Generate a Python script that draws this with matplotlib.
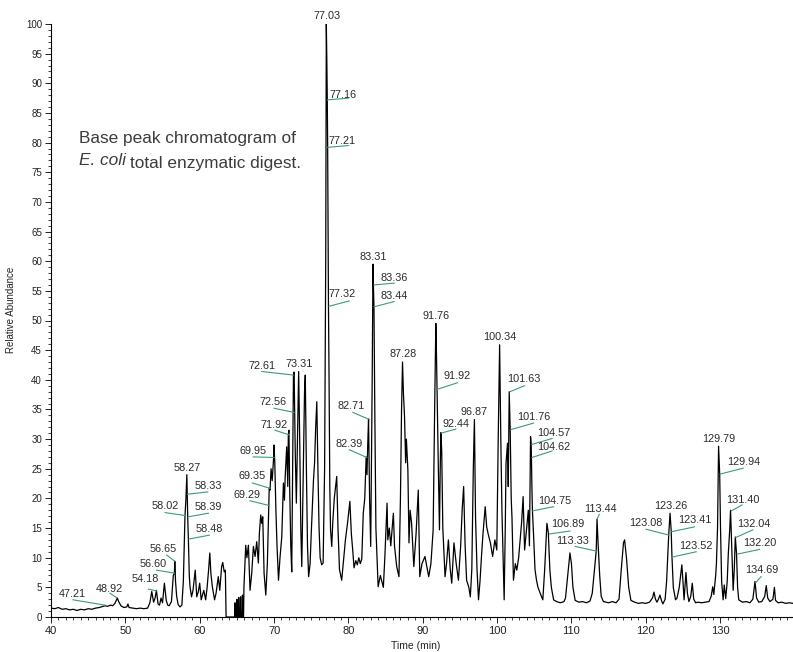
import numpy as np
import matplotlib.pyplot as plt
from matplotlib.ticker import MultipleLocator

# Trace: (time in min, relative abundance in %)
baseline_early = [
    (40.0, 1.5), (40.5, 1.4), (41.0, 1.6), (41.5, 1.3), (42.0, 1.4), (42.5, 1.2),
    (43.0, 1.3), (43.5, 1.1), (44.0, 1.3), (44.5, 1.2), (45.0, 1.4), (45.5, 1.3),
    (46.0, 1.5), (46.5, 1.6), (47.0, 1.8), (47.3, 1.9), (47.6, 1.8), (48.0, 2.0),
    (48.3, 1.9), (48.6, 2.3), (48.92, 3.2), (49.1, 2.6), (49.4, 1.9), (49.8, 1.6),
    (50.2, 1.7), (50.35, 2.2), (50.5, 1.6), (51.0, 1.5), (51.5, 1.4), (52.0, 1.5),
    (52.5, 1.4), (53.0, 1.5),
]
cluster_53_64 = [
    (53.3, 2.4), (53.55, 4.3), (53.8, 2.5), (54.0, 3.2), (54.18, 4.5), (54.4, 2.2),
    (54.6, 2.0), (54.8, 3.2), (55.0, 2.4), (55.25, 5.7), (55.5, 2.8), (55.7, 2.0),
    (55.9, 1.9), (56.2, 2.6), (56.45, 7.0), (56.6, 7.4), (56.65, 9.4), (56.75, 6.0),
    (56.9, 3.5), (57.1, 2.1), (57.35, 1.7), (57.6, 2.0), (57.8, 6.0), (58.02, 17.0),
    (58.15, 20.0), (58.27, 24.0), (58.33, 20.5), (58.39, 16.8), (58.48, 13.0),
    (58.6, 7.0), (58.7, 5.1), (58.9, 3.4), (59.1, 4.5), (59.4, 7.9), (59.6, 3.4),
    (59.8, 4.2), (60.0, 5.7), (60.2, 2.9), (60.4, 3.8), (60.55, 4.5), (60.8, 2.9),
    (61.0, 5.0), (61.2, 8.0), (61.36, 10.8), (61.5, 7.4), (61.7, 5.1), (62.0, 2.9),
    (62.2, 4.0), (62.5, 6.8), (62.7, 4.5), (62.95, 8.5), (63.1, 9.2), (63.3, 7.6),
    (63.45, 7.9), (63.55, 0.0),
]
gap_64_66 = [
    (64.7, 0.0), (64.75, 2.4), (64.8, 0.0), (64.95, 0.0), (65.0, 3.0), (65.05, 0.0),
    (65.2, 0.0), (65.25, 3.3), (65.3, 0.0), (65.45, 0.0), (65.5, 3.4), (65.55, 0.0),
    (65.7, 0.0), (65.75, 3.7), (65.8, 0.0), (65.9, 0.0), (65.95, 5.0), (66.05, 7.9),
]
cluster_66_78 = [
    (66.19, 12.1), (66.35, 10.0), (66.55, 12.1), (66.77, 4.5), (67.0, 7.4),
    (67.22, 11.9), (67.45, 10.2), (67.67, 12.7), (67.89, 9.1), (68.03, 14.2),
    (68.21, 17.2), (68.35, 15.8), (68.48, 16.9), (68.66, 7.4), (68.89, 3.7),
    (69.1, 9.0), (69.29, 18.8), (69.35, 21.7), (69.46, 21.4), (69.6, 25.0),
    (69.75, 23.0), (69.95, 27.0), (70.0, 29.0), (70.1, 26.0), (70.25, 18.0),
    (70.4, 12.0), (70.6, 6.2), (70.8, 10.0), (71.04, 13.5), (71.26, 22.6),
    (71.4, 19.7), (71.5, 23.7), (71.7, 28.7), (71.85, 22.0), (71.92, 30.7),
    (72.0, 31.5), (72.1, 22.0), (72.25, 12.0), (72.38, 7.6), (72.5, 25.0),
    (72.56, 34.5), (72.61, 40.8), (72.7, 41.3), (72.85, 28.0), (73.0, 19.2),
    (73.15, 30.0), (73.31, 41.4), (73.45, 30.0), (73.6, 15.0), (73.73, 8.5),
    (73.9, 22.0), (74.1, 38.0), (74.2, 40.8), (74.35, 25.0), (74.5, 12.0),
    (74.65, 6.8), (74.85, 9.0), (75.0, 14.0), (75.3, 23.0), (75.45, 26.0),
    (75.6, 32.0), (75.75, 36.3), (75.9, 25.0), (76.05, 15.2), (76.2, 10.0),
    (76.4, 8.8), (76.6, 9.1), (76.8, 25.0), (76.95, 60.0), (77.03, 100.0),
    (77.1, 94.0), (77.16, 87.2), (77.21, 79.3), (77.25, 70.0), (77.32, 52.5),
    (77.4, 40.0), (77.5, 22.0), (77.6, 14.7), (77.76, 11.9),
]
cluster_78_83 = [
    (77.9, 16.0), (78.1, 20.0), (78.43, 23.7), (78.6, 15.0), (78.8, 8.0),
    (79.1, 6.2), (79.3, 9.0), (79.6, 13.0), (79.9, 16.0), (80.2, 19.5),
    (80.4, 14.0), (80.6, 11.0), (80.76, 8.3), (81.0, 9.5), (81.2, 8.8),
    (81.4, 10.0), (81.6, 9.0), (81.8, 9.8), (82.0, 17.5), (82.2, 20.0),
    (82.39, 27.0), (82.5, 24.0), (82.6, 29.0), (82.71, 33.4), (82.85, 20.0),
    (83.0, 11.9),
]
cluster_83_108 = [
    (83.2, 40.0), (83.31, 59.5), (83.36, 56.2), (83.44, 52.3), (83.55, 35.0),
    (83.7, 15.0), (84.0, 5.1), (84.3, 7.0), (84.7, 5.0), (84.9, 10.0),
    (85.2, 19.2), (85.3, 13.0), (85.5, 15.0), (85.7, 12.0), (86.05, 17.5),
    (86.2, 12.0), (86.5, 8.5), (86.8, 6.8), (87.0, 20.0), (87.15, 35.0),
    (87.28, 43.0), (87.4, 37.8), (87.55, 33.8), (87.7, 26.0), (87.8, 30.0),
    (88.0, 24.8), (88.15, 12.5), (88.3, 18.0), (88.5, 15.8), (88.8, 8.5),
    (89.1, 14.0), (89.4, 21.4), (89.6, 6.8), (89.9, 9.0), (90.3, 10.2),
    (90.8, 6.8), (91.1, 9.0), (91.4, 14.7), (91.6, 35.0), (91.76, 49.5),
    (91.85, 44.0), (91.92, 38.4), (92.1, 25.0), (92.25, 14.7), (92.35, 25.0),
    (92.44, 31.1), (92.55, 28.0), (92.7, 15.0), (93.0, 6.8), (93.2, 9.0),
    (93.45, 13.0), (93.7, 8.0), (93.9, 5.7), (94.2, 12.5), (94.5, 9.0),
    (94.8, 6.2), (95.1, 12.0), (95.3, 18.0), (95.5, 22.0), (95.7, 12.0),
    (95.9, 6.2), (96.2, 5.0), (96.4, 3.4), (96.6, 8.0), (96.8, 25.0),
    (96.95, 33.3), (97.1, 16.9), (97.3, 8.0), (97.5, 2.9), (97.7, 6.0),
    (97.9, 10.2), (98.1, 14.0), (98.4, 18.6), (98.6, 15.2), (98.8, 14.0),
    (99.1, 12.5), (99.4, 10.2), (99.7, 13.0), (99.96, 11.3), (100.15, 30.0),
    (100.34, 45.9), (100.5, 30.0), (100.65, 18.0), (100.95, 2.9), (101.1, 15.0),
    (101.2, 25.9), (101.4, 29.3), (101.5, 22.0), (101.63, 38.0), (101.76, 31.8),
    (101.9, 20.0), (102.0, 16.9), (102.2, 6.2), (102.45, 9.0), (102.65, 7.9),
    (102.9, 10.0), (103.1, 13.0), (103.3, 16.0), (103.5, 20.3), (103.7, 11.3),
    (103.9, 14.0), (104.2, 18.0), (104.35, 12.0), (104.5, 30.4), (104.57, 29.3),
    (104.62, 27.0), (104.68, 22.0), (104.75, 18.0), (104.9, 14.0), (105.1, 8.0),
    (105.3, 6.2), (105.5, 5.0), (105.8, 4.0), (106.15, 2.9), (106.4, 8.0),
    (106.7, 15.8), (106.89, 14.2), (107.1, 7.9), (107.3, 5.0), (107.6, 2.9),
]
late_peaks = [
    (108.0, 2.6), (108.5, 2.4), (109.0, 2.6), (109.2, 3.2), (109.5, 7.0),
    (109.8, 10.8), (110.0, 9.0), (110.2, 5.0), (110.5, 2.8), (111.0, 2.5),
    (111.5, 2.6), (112.0, 2.4), (112.5, 2.7), (112.8, 4.0), (113.1, 8.0),
    (113.33, 11.1), (113.44, 16.5), (113.6, 12.0), (113.8, 7.0), (114.0, 3.5),
    (114.3, 2.6), (115.0, 2.4), (115.5, 2.6), (116.0, 2.4), (116.4, 3.0),
    (116.7, 8.0), (117.0, 12.5), (117.15, 13.0), (117.4, 10.0), (117.7, 5.0),
    (118.0, 2.8), (118.5, 2.5), (119.0, 2.3), (119.5, 2.4), (120.0, 2.3),
    (120.5, 2.5), (120.9, 3.2), (121.1, 4.2), (121.3, 3.0), (121.5, 2.5),
    (121.7, 3.0), (121.9, 3.7), (122.1, 2.8), (122.3, 2.2), (122.6, 3.0),
    (122.8, 6.0), (123.08, 13.8), (123.26, 17.5), (123.41, 14.7), (123.52, 10.2),
    (123.7, 5.0), (124.0, 2.9), (124.2, 3.2), (124.5, 5.0), (124.85, 8.8),
    (125.0, 6.0), (125.15, 2.9), (125.4, 7.5), (125.6, 4.0), (125.8, 2.6),
    (126.05, 3.5), (126.25, 5.7), (126.45, 3.0), (126.7, 2.4), (127.0, 2.5),
    (127.5, 2.4), (128.0, 2.5), (128.5, 2.6), (128.8, 3.5), (129.0, 5.1),
    (129.15, 3.8), (129.4, 7.0), (129.5, 9.0), (129.65, 15.0), (129.79, 28.8),
    (129.94, 24.1), (130.05, 15.0), (130.2, 6.0), (130.4, 2.9), (130.55, 5.4),
    (130.75, 3.1), (130.95, 6.0), (131.1, 10.7), (131.3, 15.0), (131.4, 18.0),
    (131.55, 12.0), (131.75, 4.5), (131.9, 8.0), (132.04, 13.5), (132.2, 10.8),
    (132.35, 5.0), (132.5, 2.9), (133.0, 2.5), (133.5, 2.6), (134.0, 2.4),
    (134.4, 3.0), (134.69, 6.0), (134.9, 3.2), (135.2, 2.5), (135.6, 2.6),
    (136.0, 3.5), (136.2, 5.3), (136.4, 3.2), (136.7, 2.6), (137.1, 3.0),
    (137.3, 5.0), (137.45, 2.8), (137.8, 2.4), (138.3, 2.5), (138.8, 2.3),
    (139.3, 2.4), (139.8, 2.3),
]

# Peak labels (retention times)
peak_names = [
    "47.21", "48.92", "54.18", "56.60", "56.65", "58.27", "58.33", "58.02",
    "58.39", "58.48", "69.29", "69.35", "69.95", "71.92", "72.56", "72.61",
    "73.31", "77.03", "77.16", "77.21", "77.32", "82.39", "82.71", "83.31",
    "83.36", "83.44", "87.28", "91.76", "91.92", "92.44", "96.87", "100.34",
    "101.63", "101.76", "104.57", "104.62", "104.75", "106.89", "113.33",
    "113.44", "123.08", "123.26", "123.41", "123.52", "129.79", "129.94",
    "131.40", "132.04", "132.20", "134.69",
]

# Layout of each label: text centre, then leader (peak x, peak y, end x, end y)
label_layout = [
    (42.92, 3.9, (47.26, 2.0, 42.96, 2.9)),
    (47.8, 4.8, (48.84, 3.25, 47.94, 4.0)),
    (52.65, 6.4, (54.2, 4.4, 53.1, 4.7)),
    (53.7, 9.0, (56.6, 7.4, 54.2, 7.9)),
    (55.1, 11.5, (56.65, 9.4, 55.56, 10.45)),
    (58.34, 25.2, None),
    (61.17, 22.1, (58.34, 20.7, 61.08, 21.1)),
    (55.34, 18.7, (58.12, 17.1, 55.34, 17.6)),
    (61.17, 18.5, (58.47, 16.9, 61.17, 17.5)),
    (61.3, 14.8, (58.57, 13.15, 61.3, 13.8)),
    (66.33, 20.6, (69.35, 18.8, 66.77, 19.6)),
    (67.0, 23.8, (69.46, 21.7, 67.1, 22.6)),
    (67.2, 28.0, (70.0, 26.9, 67.2, 27.0)),
    (70.0, 32.4, (72.06, 30.7, 70.14, 31.5)),
    (69.9, 36.2, (72.7, 34.5, 70.0, 35.2)),
    (68.35, 42.3, (72.6, 40.8, 68.35, 41.4)),
    (73.37, 42.6, None),
    (77.09, 101.3, None),
    (79.33, 88.1, (77.16, 87.2, 80.0, 87.5)),
    (79.1, 80.3, (77.21, 79.2, 80.0, 79.5)),
    (79.2, 54.4, (77.4, 52.4, 80.1, 53.3)),
    (80.09, 29.1, (82.47, 26.9, 80.13, 28.2)),
    (80.4, 35.6, (82.83, 33.3, 80.6, 34.5)),
    (83.36, 60.7, None),
    (86.15, 57.1, (83.45, 56.0, 86.15, 56.3)),
    (86.19, 54.2, (83.45, 52.3, 86.15, 53.2)),
    (87.3, 44.3, None),
    (91.8, 50.8, None),
    (94.66, 40.6, (91.97, 38.4, 94.66, 39.5)),
    (94.45, 32.5, (92.47, 31.0, 94.45, 31.7)),
    (96.9, 34.5, None),
    (100.4, 47.2, None),
    (103.6, 40.1, (101.75, 38.0, 103.68, 39.0)),
    (104.9, 33.8, (101.85, 31.6, 104.9, 32.7)),
    (107.6, 31.1, (104.67, 29.1, 107.4, 30.1)),
    (107.6, 28.7, (104.7, 26.9, 107.4, 28.0)),
    (107.8, 19.6, (104.8, 17.9, 107.6, 18.6)),
    (109.55, 15.7, (107.04, 14.0, 109.8, 14.5)),
    (110.1, 12.8, (113.4, 11.1, 110.5, 11.9)),
    (113.95, 18.2, (113.44, 16.5, 113.75, 17.3)),
    (120.05, 15.8, (123.14, 13.8, 120.05, 14.8)),
    (123.37, 18.7, None),
    (126.64, 16.4, (123.5, 14.4, 126.55, 15.2)),
    (126.78, 12.0, (123.55, 10.1, 126.78, 11.0)),
    (129.87, 30.1, None),
    (133.14, 26.2, (130.0, 24.1, 133.1, 25.1)),
    (133.06, 19.8, (131.5, 17.9, 132.95, 18.9)),
    (134.5, 15.7, (132.1, 13.4, 134.4, 14.7)),
    (135.3, 12.4, (132.3, 10.6, 135.3, 11.4)),
    (135.6, 7.9, (134.8, 5.8, 135.5, 6.8)),
]

LEADER_COLOR = "#3a9a80"
TEXT_COLOR = "#2a2a2a"
CAPTION_COLOR = "#3c3c3c"

trace = np.array(baseline_early + cluster_53_64 + gap_64_66 + cluster_66_78
                 + cluster_78_83 + cluster_83_108 + late_peaks)
time_min = trace[:, 0]
rel_abund = trace[:, 1]

plt.rcParams['font.family'] = ['Liberation Sans', 'DejaVu Sans']

fig = plt.figure(figsize=(7.93, 6.52), dpi=100)
ax = fig.add_axes([51 / 793, 35 / 652, 742 / 793, 593 / 652])

ax.plot(time_min, rel_abund, color="black", lw=0.9)

# peak labels with their leader lines
for name, (tx, ty, leader) in zip(peak_names, label_layout):
    if leader is not None:
        x0, y0, x1, y1 = leader
        ax.plot([x0, x1], [y0, y1], color=LEADER_COLOR, lw=0.8, clip_on=False)
    ax.text(tx, ty, name, ha="center", va="center", fontsize=7.8,
            color=TEXT_COLOR, clip_on=False)

# caption inside the plot
ax.text(43.77, 79.9, "Base peak chromatogram of", fontsize=12.4,
        color=CAPTION_COLOR, va="baseline", ha="left")
t1 = ax.text(43.77, 76.2, "E. coli", fontsize=12.4, style="italic",
             color=CAPTION_COLOR, va="baseline", ha="left")
ax.annotate("total enzymatic digest.", xy=(1, 0), xycoords=t1,
            xytext=(2.5, 0), textcoords="offset points",
            fontsize=12.4, color=CAPTION_COLOR, va="baseline", ha="left")

ax.set_xlim(40, 139.8)
ax.set_ylim(0, 100)
ax.xaxis.set_major_locator(MultipleLocator(10))
ax.xaxis.set_minor_locator(MultipleLocator(1))
ax.yaxis.set_major_locator(MultipleLocator(5))
ax.yaxis.set_minor_locator(MultipleLocator(1))
ax.set_xticks(np.arange(40, 131, 10))

ax.spines["top"].set_visible(False)
ax.spines["right"].set_visible(False)
for s in ("left", "bottom"):
    ax.spines[s].set_linewidth(0.8)

ax.tick_params(which="major", direction="out", length=4.5, width=0.7,
               colors="#222222")
ax.tick_params(which="minor", direction="out", length=2.5, width=0.6,
               colors="#222222")
ax.tick_params(axis="x", labelsize=8, pad=2)
ax.tick_params(axis="y", labelsize=7, pad=2)

ax.set_xlabel("Time (min)", fontsize=7.5, color="#222222")
ax.xaxis.set_label_coords(0.492, -0.040)
ax.set_ylabel("Relative Abundance", fontsize=7, color="#222222")
ax.yaxis.set_label_coords(-0.047, 0.518)

fig.savefig("out.png", dpi=100)
